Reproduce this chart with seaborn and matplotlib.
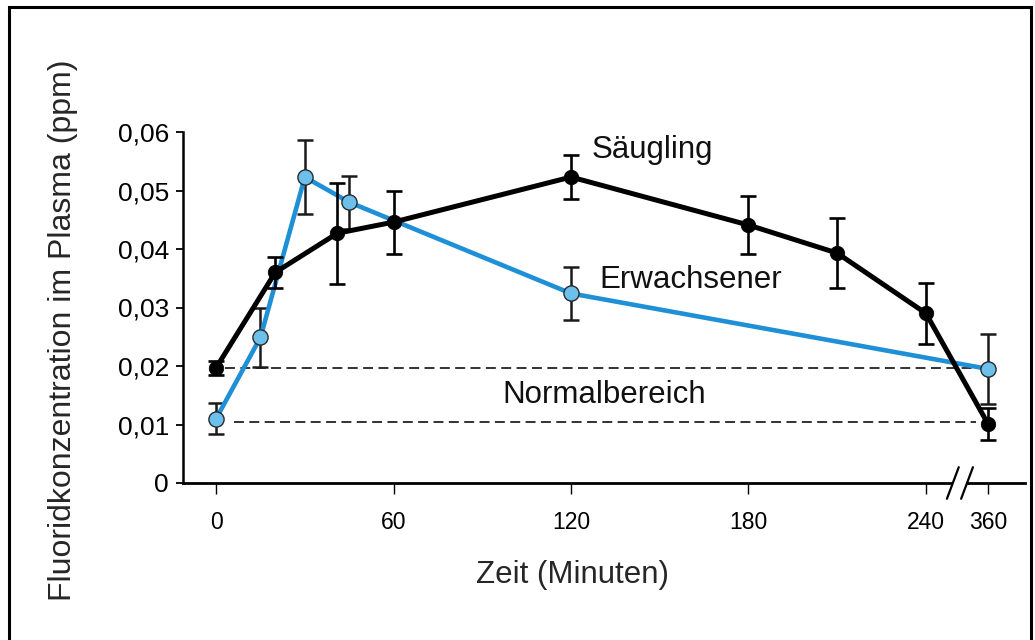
import matplotlib
matplotlib.use("Agg")
import matplotlib.pyplot as plt
import seaborn as sns
import pandas as pd
from matplotlib.patches import Rectangle
from matplotlib.lines import Line2D

# ---- data ----
infant_time = [0, 20, 41, 60, 120, 180, 210, 240, 360]
infant_conc = [0.0197, 0.0360, 0.0427, 0.0446, 0.0523, 0.0441, 0.0393, 0.0290, 0.0101]
infant_err = [0.0012, 0.0027, 0.0086, 0.0054, 0.0037, 0.0050, 0.0060, 0.0052, 0.0028]

adult_time = [0, 15, 30, 45, 120, 360]
adult_conc = [0.0110, 0.0249, 0.0523, 0.0480, 0.0324, 0.0195]
adult_err = [0.0026, 0.0050, 0.0063, 0.0045, 0.0046, 0.0060]

normal_range = [0.0196, 0.0105]
x_ticks = [0, 60, 120, 180, 240, 360]
y_ticks = [0, 0.01, 0.02, 0.03, 0.04, 0.05, 0.06]
y_ticklabels = ["0", "0,01", "0,02", "0,03", "0,04", "0,05", "0,06"]

# broken axis: 360 min is drawn just after the break following 240
BREAK_AT = 251.5
POS_360 = 261.0


def xpos(t):
    return t if t <= 240 else POS_360 + (t - 360)


sns.set_theme(style="white")
plt.rcParams["font.family"] = ["Liberation Sans", "DejaVu Sans"]

fig = plt.figure(figsize=(10.35, 6.4), dpi=100)
fig.patch.set_facecolor("white")
ax = fig.add_axes([183 / 1035, 1 - 483 / 640, (1025 - 183) / 1035, (483 - 132) / 640])
ax.set_facecolor("white")

infant = pd.DataFrame({"x": [xpos(t) for t in infant_time], "y": infant_conc})
adult = pd.DataFrame({"x": [xpos(t) for t in adult_time], "y": adult_conc})

blue_line = "#1f8fd6"
blue_fill = "#6cc0ec"

# normal range dashed lines
for yv, x0 in zip(normal_range, [3, 6]):
    ax.plot([x0, 257], [yv, yv], color="#222222", lw=1.3,
            linestyle=(0, (5.5, 3.0)), zorder=1)

# adult (blue)
sns.lineplot(data=adult, x="x", y="y", ax=ax, sort=False, color=blue_line,
             lw=3.3, zorder=3, estimator=None)
ax.errorbar(adult["x"], adult["y"], yerr=adult_err, fmt="none", ecolor="#1a1a1a",
            elinewidth=1.8, capsize=5.5, capthick=1.8, zorder=2)
sns.scatterplot(data=adult, x="x", y="y", ax=ax, s=120, color=blue_fill,
                edgecolor="#2a2a2a", linewidth=1.0, zorder=5)

# infant (black)
sns.lineplot(data=infant, x="x", y="y", ax=ax, sort=False, color="black",
             lw=3.6, zorder=4, estimator=None)
ax.errorbar(infant["x"], infant["y"], yerr=infant_err, fmt="none", ecolor="black",
            elinewidth=1.9, capsize=5.5, capthick=1.9, zorder=4)
sns.scatterplot(data=infant, x="x", y="y", ax=ax, s=110, color="black",
                edgecolor="black", linewidth=0.5, zorder=6)

# labels in plot
FS = 22.5
ax.text(127.1, 0.0569, "Säugling", fontsize=FS, va="center", ha="left", color="#111111")
ax.text(129.5, 0.0347, "Erwachsener", fontsize=FS, va="center", ha="left", color="#111111")
ax.text(96.7, 0.0150, "Normalbereich", fontsize=FS, va="center", ha="left", color="#111111")

# axes
ax.set_xlim(-11.2, 273.5)
ax.set_ylim(0, 0.06)
ax.set_xticks([xpos(t) for t in x_ticks])
ax.set_xticklabels([str(t) for t in x_ticks], fontsize=16.5)
ax.set_yticks(y_ticks)
ax.set_yticklabels(y_ticklabels, fontsize=19)
ax.set_xlabel("Zeit (Minuten)", fontsize=FS)
ax.set_ylabel("Fluoridkonzentration im Plasma (ppm)", fontsize=23)
ax.xaxis.set_label_coords((573 - 183) / 842, (483 - 560) / 351)
ax.yaxis.set_label_coords((78 - 183) / 842, (483 - 330) / 351)

for s in ["top", "right"]:
    ax.spines[s].set_visible(False)
ax.spines["left"].set_linewidth(1.8)
ax.spines["bottom"].set_linewidth(2.0)
ax.spines["left"].set_color("black")
ax.spines["bottom"].set_color("black")
ax.tick_params(axis="y", direction="out", length=5, width=1.3, pad=5, colors="black",
               left=True)
ax.tick_params(axis="x", direction="out", length=8, width=1.0, pad=12, colors="black",
               bottom=True)
ax.grid(False)

# axis break marks
tr = ax.get_xaxis_transform()
ax.add_patch(Rectangle((BREAK_AT - 2.2, -0.012), 4.4, 0.024, transform=tr,
                       facecolor="white", edgecolor="none", clip_on=False, zorder=10))
for dx in (-2.4, 2.4):
    ax.add_line(Line2D([BREAK_AT + dx - 2.0, BREAK_AT + dx + 2.0], [-0.045, 0.045],
                       transform=tr, color="black", lw=1.6, clip_on=False, zorder=11))

# frame around the figure
fig.patches.append(Rectangle((9 / 1035, -0.02), (1031 - 9) / 1035, (640 - 7) / 640 + 0.02,
                             transform=fig.transFigure, fill=False, edgecolor="black",
                             lw=2.2, zorder=20))

fig.savefig("out.png", dpi=100, facecolor="white")
